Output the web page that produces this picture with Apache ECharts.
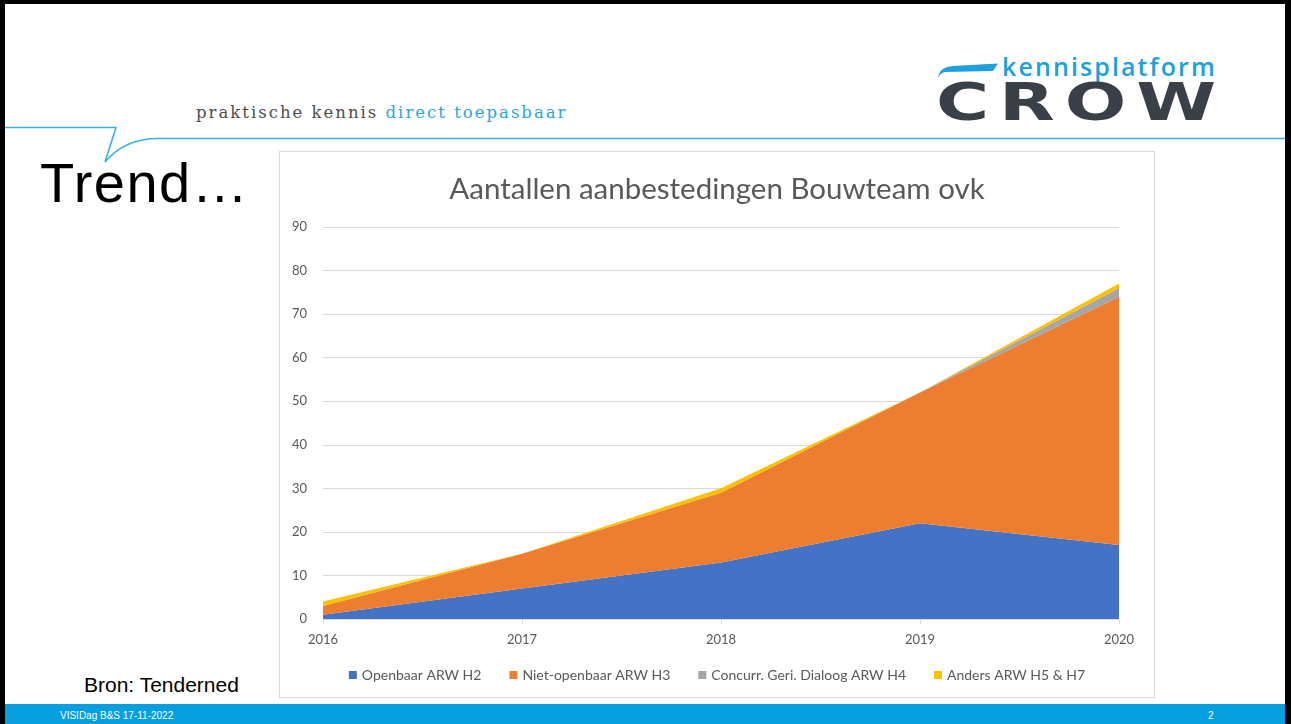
<!DOCTYPE html>
<html>
<head>
<meta charset="utf-8">
<script src="https://cdn.jsdelivr.net/npm/echarts/dist/echarts.min.js"></script>
<style>
    html, body { margin: 0; padding: 0; background: #fff; }
    #slide { position: relative; width: 1291px; height: 724px; overflow: hidden; background: #fff; font-family: Arial, "Liberation Sans", sans-serif; }
    .frame { position: absolute; background: #000; }
    #footer { position: absolute; left: 5px; right: 6px; top: 704px; height: 20px; background: #079fe0; color: #fff; font-size: 10px; }
    #chart { position: absolute; left: 279px; top: 151px; width: 874px; height: 545px; border: 1px solid #d9d9d9; }
</style>
</head>
<body>
<div id="slide">
    <div class="frame" style="left:0;top:0;width:1291px;height:4px"></div>
    <div class="frame" style="left:0;top:0;width:5px;height:724px"></div>
    <div class="frame" style="right:0;top:0;width:6px;height:724px"></div>

    <!-- bubble line -->
    <svg style="position:absolute;left:0;top:0" width="1291" height="200">
        <path d="M5,127.5 L116,127.5 L105,162 Q125,138 160,138.5 L1285,138.5" fill="none" stroke="#3aaee6" stroke-width="1.6"/>
        <path d="M938,78 Q939,67 953,66 L998,63.5 L993,71 L945,72 Q940,73 938,78 Z" fill="#1ea0dc"/>
    </svg>

    <div style="position:absolute;left:196px;top:103px;font-family:'DejaVu Serif',serif;font-size:16.5px;letter-spacing:2px;color:#4d4d4d;white-space:nowrap">praktische kennis <span style="color:#29a6df">direct toepasbaar</span></div>

    <div style="position:absolute;left:1002px;top:49px;font-family:'Open Sans',sans-serif;font-weight:600;font-size:25px;color:#1ea0dc;white-space:nowrap;letter-spacing:2.1px">kennisplatform</div>
    <div style="position:absolute;left:936px;top:73px;font-family:'DejaVu Sans',sans-serif;font-weight:bold;font-size:51px;color:#3a4047;white-space:nowrap;letter-spacing:7px;transform:scaleX(1.42);transform-origin:left top">CROW</div>

    <div style="position:absolute;left:40px;top:150px;font-size:56px;letter-spacing:1.5px;color:#000;white-space:nowrap">Trend…</div>
    <div style="position:absolute;left:84px;top:673px;font-size:21px;color:#000;white-space:nowrap">Bron: Tenderned</div>

    <div id="chart"></div>

    <div id="footer">
        <span style="position:absolute;left:55px;top:6px">VISIDag B&amp;S 17-11-2022</span>
        <span style="position:absolute;left:1203px;top:6px">2</span>
    </div>
</div>

<script>
    // jaren en aantallen (gestapeld)
    var years = ['2016', '2017', '2018', '2019', '2020'];
    var openbaar = [1, 7, 13, 22, 17];
    var nietOpenbaar = [2, 8, 16, 30, 57];
    var concurrGD = [0, 0, 0, 0, 2];
    var anders = [1, 0, 1, 0, 1];

    var names = ['Openbaar ARW H2', 'Niet-openbaar ARW H3', 'Concurr. Geri. Dialoog ARW H4', 'Anders ARW H5 & H7'];

    var chart = echarts.init(document.getElementById('chart'));

    function areaSerie(name, data) {
        return {
            name: name,
            type: 'line',
            stack: 'totaal',
            data: data,
            symbol: 'none',
            lineStyle: { width: 0 },
            areaStyle: { opacity: 1 },
            emphasis: { disabled: true }
        };
    }

    chart.setOption({
        animation: false,
        color: ['#4472c4', '#ed7d31', '#a5a5a5', '#ffc000'],
        textStyle: { fontFamily: 'Lato, "Open Sans", sans-serif' },
        title: {
            text: 'Aantallen aanbestedingen Bouwteam ovk',
            left: 'center',
            top: 17,
            textStyle: { fontSize: 29.5, fontWeight: 'normal', color: '#595959' }
        },
        legend: {
            data: names,
            bottom: 10,
            left: 'center',
            itemWidth: 8,
            itemHeight: 8,
            itemGap: 28,
            icon: 'rect',
            textStyle: { fontSize: 14, color: '#595959' }
        },
        grid: { //plotvlak binnen de kader
            left: 43,
            right: 35,
            top: 75,
            bottom: 78
        },
        xAxis: {
            type: 'category',
            boundaryGap: false,
            data: years,
            axisLine: { lineStyle: { color: '#d9d9d9' } },
            axisTick: { show: true, length: 5, lineStyle: { color: '#d9d9d9' } },
            axisLabel: { color: '#595959', fontSize: 13, margin: 14 }
        },
        yAxis: {
            type: 'value',
            min: 0,
            max: 90,
            interval: 10,
            axisLine: { show: false },
            axisTick: { show: false },
            axisLabel: { color: '#595959', fontSize: 13, margin: 16 },
            splitLine: { lineStyle: { color: '#d9d9d9' } }
        },
        series: [
            areaSerie(names[0], openbaar),
            areaSerie(names[1], nietOpenbaar),
            areaSerie(names[2], concurrGD),
            areaSerie(names[3], anders)
        ]
    });
</script>
</body>
</html>
